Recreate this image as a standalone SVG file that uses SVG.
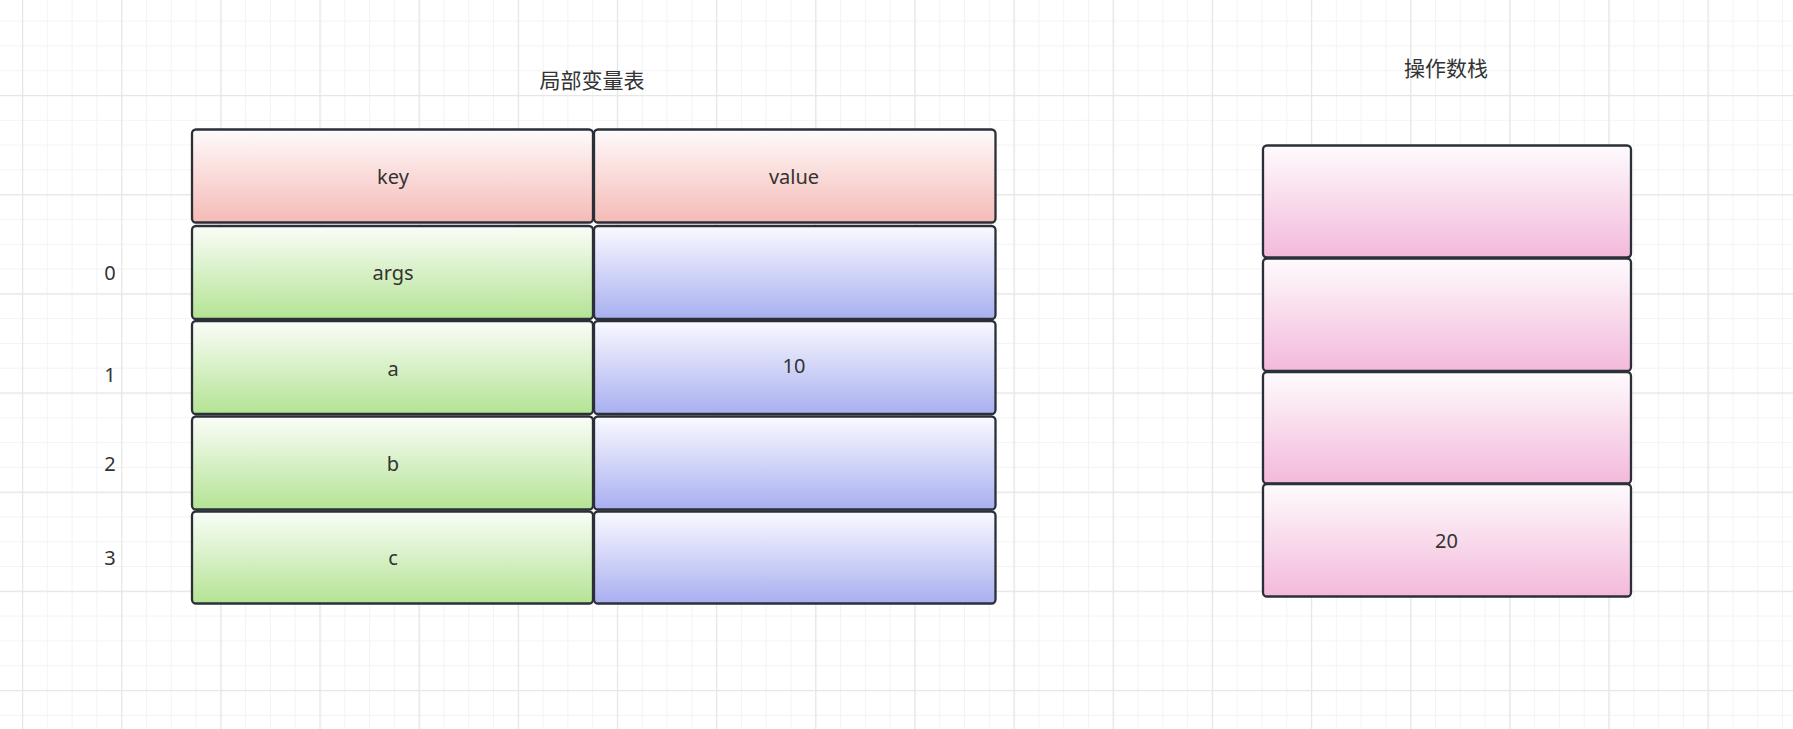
<svg xmlns="http://www.w3.org/2000/svg" width="1793" height="729" viewBox="0 0 1793 729">
<defs>
<pattern id="minor" x="22" y="95" width="24.79" height="24.79" patternUnits="userSpaceOnUse">
<path d="M0.5 0V24.79M0 0.5H24.79" fill="none" stroke="#f3f3f3" stroke-width="1"/>
</pattern>
<pattern id="major" x="22" y="95" width="99.15" height="99.15" patternUnits="userSpaceOnUse">
<path d="M0.5 0V99.15M0 0.5H99.15" fill="none" stroke="#e6e6e6" stroke-width="1.5"/>
</pattern>
<linearGradient id="gRed" x1="0" y1="0" x2="0" y2="1"><stop offset="0" stop-color="#fefbfb"/><stop offset="1" stop-color="#f5bab6"/></linearGradient>
<linearGradient id="gGreen" x1="0" y1="0" x2="0" y2="1"><stop offset="0" stop-color="#fafdf8"/><stop offset="1" stop-color="#b4e394"/></linearGradient>
<linearGradient id="gBlue" x1="0" y1="0" x2="0" y2="1"><stop offset="0" stop-color="#fafaff"/><stop offset="1" stop-color="#a8aff0"/></linearGradient>
<linearGradient id="gPink" x1="0" y1="0" x2="0" y2="1"><stop offset="0" stop-color="#fefbfd"/><stop offset="1" stop-color="#f3b9da"/></linearGradient>
</defs>
<style>
.box{stroke:#2b3038;stroke-width:2.3}
.t{font-family:"Noto Sans","Noto Sans CJK SC",sans-serif;font-size:20px;fill:#333333;text-anchor:middle}
.cjk{font-family:"Noto Sans CJK SC",sans-serif;font-size:21px;fill:#333333;text-anchor:middle}
</style>
<rect width="1793" height="729" fill="#ffffff"/>
<rect width="1793" height="729" fill="url(#minor)"/>
<rect width="1793" height="729" fill="url(#major)"/>

<g id="title-local"><text class="cjk" x="592" y="88">局部变量表</text></g>
<g id="title-stack"><text class="cjk" x="1446" y="76">操作数栈</text></g>

<g id="idx-0"><text class="t" x="110" y="280">0</text></g>
<g id="idx-1"><text class="t" x="110" y="382">1</text></g>
<g id="idx-2"><text class="t" x="110" y="471">2</text></g>
<g id="idx-3"><text class="t" x="110" y="565">3</text></g>

<g id="hdr-key"><rect class="box" x="192" y="129.5" width="401" height="93" rx="4" fill="url(#gRed)"/><text class="t" x="393" y="184">key</text></g>
<g id="hdr-value"><rect class="box" x="594" y="129.5" width="401.5" height="93" rx="4" fill="url(#gRed)"/><text class="t" x="794" y="184">value</text></g>

<g id="key-0"><rect class="box" x="192" y="226" width="401" height="93" rx="4" fill="url(#gGreen)"/><text class="t" x="393" y="280">args</text></g>
<g id="val-0"><rect class="box" x="594" y="226" width="401.5" height="93" rx="4" fill="url(#gBlue)"/></g>

<g id="key-1"><rect class="box" x="192" y="321" width="401" height="93" rx="4" fill="url(#gGreen)"/><text class="t" x="393" y="376">a</text></g>
<g id="val-1"><rect class="box" x="594" y="321" width="401.5" height="93" rx="4" fill="url(#gBlue)"/><text class="t" x="794" y="373">10</text></g>

<g id="key-2"><rect class="box" x="192" y="416.5" width="401" height="93" rx="4" fill="url(#gGreen)"/><text class="t" x="393" y="471">b</text></g>
<g id="val-2"><rect class="box" x="594" y="416.5" width="401.5" height="93" rx="4" fill="url(#gBlue)"/></g>

<g id="key-3"><rect class="box" x="192" y="511.5" width="401" height="92" rx="4" fill="url(#gGreen)"/><text class="t" x="393" y="565">c</text></g>
<g id="val-3"><rect class="box" x="594" y="511.5" width="401.5" height="92" rx="4" fill="url(#gBlue)"/></g>

<g id="stack-0"><rect class="box" x="1263" y="145.5" width="368" height="112" rx="4" fill="url(#gPink)"/></g>
<g id="stack-1"><rect class="box" x="1263" y="258.5" width="368" height="112.5" rx="4" fill="url(#gPink)"/></g>
<g id="stack-2"><rect class="box" x="1263" y="372" width="368" height="111.5" rx="4" fill="url(#gPink)"/></g>
<g id="stack-3"><rect class="box" x="1263" y="484" width="368" height="112.5" rx="4" fill="url(#gPink)"/><text class="t" x="1446.5" y="548">20</text></g>

<g id="connectors"></g>
</svg>
